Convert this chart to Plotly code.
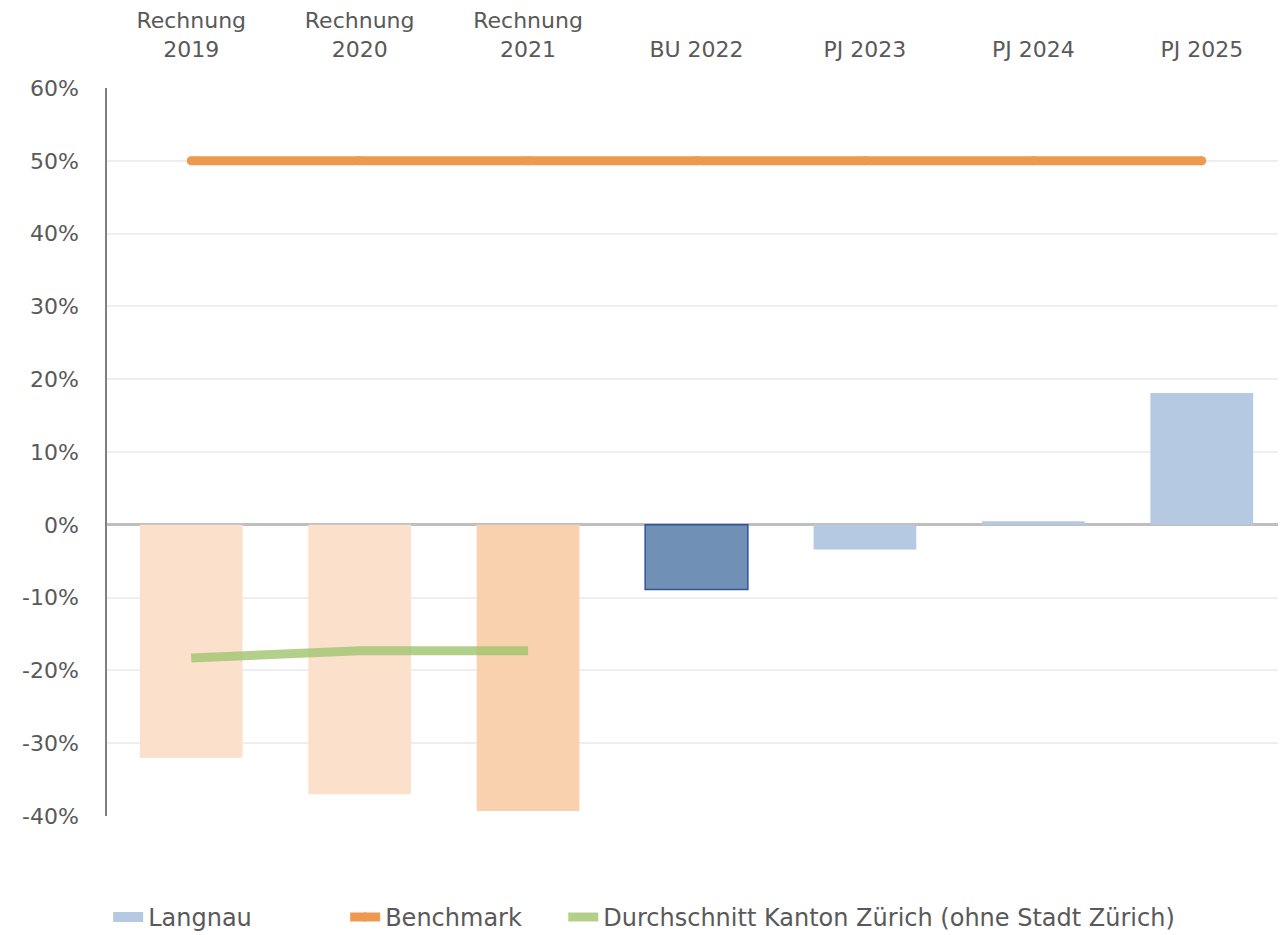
import plotly.graph_objects as go

categories = ["Rechnung<br>2019", "Rechnung<br>2020", "Rechnung<br>2021", "BU 2022", "PJ 2023", "PJ 2024", "PJ 2025"]
langnau = [-32.0, -37.0, -39.3, -8.9, -3.4, 0.5, 18.1]
benchmark = [50, 50, 50, 50, 50, 50, 50]
durchschnitt = [-18.3, -17.3, -17.3]
bar_colors = ["#FBE1CB", "#FBE1CB", "#F9D1AE", "#7190B5", "#B5C9E2", "#B5C9E2", "#B5C9E2"]
bar_lines = ["rgba(0,0,0,0)"] * 3 + ["#2F5597"] + ["rgba(0,0,0,0)"] * 3
bar_line_w = [0, 0, 0, 1.5, 0, 0, 0]
y_ticks = [-40, -30, -20, -10, 0, 10, 20, 30, 40, 50, 60]
y_ticktext = [f"{v}%" for v in y_ticks]

font_fam = "Verdana, DejaVu Sans, sans-serif"
txt = "#595959"
leg_font = dict(family="DejaVu Sans, sans-serif", size=24, color=txt)
leg_y = -0.1085

fig = go.Figure()
fig.add_trace(go.Bar(
    x=categories, y=langnau, width=0.61, showlegend=False, name="Langnau",
    marker=dict(color=bar_colors, line=dict(color=bar_lines, width=bar_line_w)),
))
fig.add_trace(go.Scatter(x=[None], y=[None], mode="lines", name="Langnau", legend="legend",
                         line=dict(color="#B5C9E2", width=10)))
fig.add_trace(go.Scatter(
    x=categories, y=benchmark, mode="lines+markers", name="Benchmark", legend="legend2",
    line=dict(color="#ED9A50", width=9), marker=dict(color="#ED9A50", size=9),
))
fig.add_trace(go.Scatter(
    x=categories[:3], y=durchschnitt, mode="lines", name="Durchschnitt Kanton Zürich (ohne Stadt Zürich)",
    legend="legend3", line=dict(color="rgba(160,196,110,0.8)", width=9),
))

fig.update_layout(
    width=1278, height=927,
    margin=dict(l=99, r=0, t=80, b=119, autoexpand=False),
    paper_bgcolor="white", plot_bgcolor="white",
    barmode="overlay",
    font=dict(family=font_fam, color=txt, size=22),
    legend=dict(orientation="h", x=0.001, y=leg_y, xanchor="left", yanchor="top", font=leg_font),
    legend2=dict(orientation="h", x=0.202, y=leg_y, xanchor="left", yanchor="top", font=leg_font),
    legend3=dict(orientation="h", x=0.387, y=leg_y, xanchor="left", yanchor="top", font=leg_font),
    xaxis=dict(side="top", showgrid=False, showline=False, ticks="", automargin=False,
               tickfont=dict(size=22, color=txt), ticklabelstandoff=26),
    yaxis=dict(range=[-40, 60], tickvals=y_ticks, ticktext=y_ticktext, automargin=False,
               showgrid=True, gridcolor="#EEEEEE", gridwidth=1.5,
               zeroline=True, zerolinecolor="#BFBFBF", zerolinewidth=2.5,
               showline=True, linecolor="#7F7F7F", linewidth=1.5,
               ticks="", ticklabelstandoff=22, tickfont=dict(size=22, color=txt)),
)

fig.write_html("out.html")
